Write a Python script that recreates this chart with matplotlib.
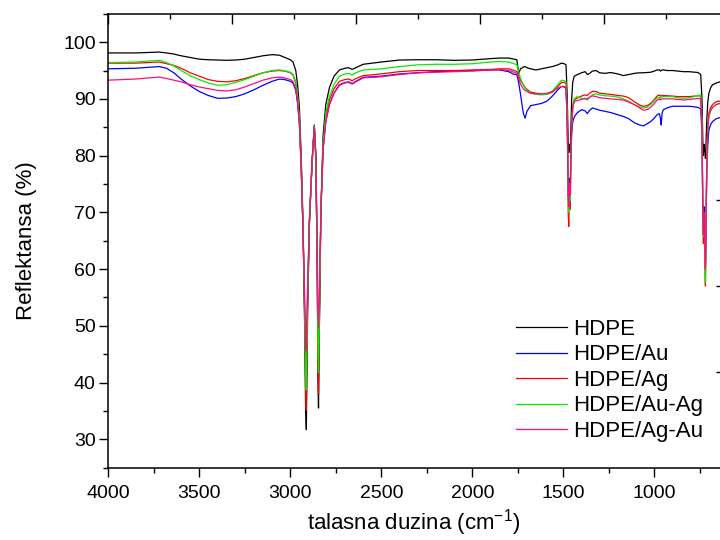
import numpy as np
import matplotlib
matplotlib.use("Agg")
import matplotlib.pyplot as plt
from matplotlib.ticker import MultipleLocator, FixedLocator, NullFormatter

plt.rcParams['font.family'] = ['Liberation Sans', 'DejaVu Sans']
plt.rcParams['mathtext.fontset'] = 'custom'
plt.rcParams['mathtext.rm'] = 'Liberation Sans'
plt.rcParams['mathtext.it'] = 'Liberation Sans'

# wavenumber grid (cm-1)
wavenumber = [
    4000, 3850, 3720, 3680, 3640, 3600, 3550, 3500, 3450, 3400, 3350, 3300, 3250, 3200, 3150, 3100, 3060, 3030, 3000,
    2985, 2970, 2960, 2950, 2940, 2930, 2922, 2916, 2912, 2905, 2895, 2880, 2868, 2860, 2852, 2848, 2845, 2840, 2832,
    2820, 2805, 2785, 2760, 2730, 2700, 2680, 2660, 2640, 2600,
    2500, 2400, 2300, 2200, 2100, 2000, 1900, 1850, 1800, 1770,
    1755, 1745, 1735, 1720, 1710, 1700, 1680, 1650, 1620, 1590, 1560, 1530, 1510, 1495, 1485,
    1478, 1473, 1470, 1467, 1464, 1461, 1458, 1454, 1448, 1440,
    1425, 1400, 1380, 1368, 1355, 1340, 1320, 1300, 1270, 1240, 1200, 1170, 1140, 1110, 1080, 1060, 1040, 1020, 1000,
    985, 972, 966, 962, 957, 950, 930, 900, 870, 840, 810, 780, 760, 745,
    738, 733, 730, 727, 724, 721, 719, 716, 712, 706, 700, 690, 680, 660, 640, 620,
]

hdpe = [
    98.1, 98.1, 98.25, 98.1, 97.9, 97.6, 97.3, 97.0, 96.9, 96.85, 96.8, 96.85, 97.0, 97.3, 97.6, 97.8, 97.7, 97.3, 96.9,
    96.5, 95.0, 92.5, 88.5, 80.0, 68.0, 52.0, 36.0, 31.7, 52.0, 68.0, 79.0, 85.4, 80.0, 60.0, 40.0, 35.5, 50.0, 70.0,
    83.5, 89.0, 92.0, 94.0, 95.1, 95.4, 95.5, 95.2, 95.5, 96.1,
    96.5, 96.85, 96.9, 96.9, 96.8, 96.85, 97.1, 97.2, 97.2, 97.0,
    96.9, 94.5, 95.3, 95.6, 95.7, 95.5, 95.3, 95.1, 95.3, 95.5, 95.7, 96.0, 96.3, 96.2, 96.0,
    90.0, 82.0, 80.5, 82.0, 81.0, 81.5, 85.0, 90.0, 93.0, 94.0,
    94.25, 94.6, 94.8, 94.3, 94.5, 94.9, 95.0, 94.6, 94.5, 94.65, 94.4, 94.1, 94.3, 94.5, 94.6, 94.6, 94.65, 94.7, 94.9,
    95.1, 95.1, 94.9, 95.0, 95.1, 95.1, 95.0, 95.0, 94.9, 94.8, 94.8, 94.7, 94.65, 94.3,
    90.0, 82.0, 80.0, 82.0, 81.0, 80.5, 79.5, 82.0, 86.0, 89.5, 91.0, 92.0, 92.5, 92.8, 93.0, 93.0,
]

hdpe_au = [
    95.3, 95.4, 95.7, 95.4, 94.6, 93.5, 92.3, 91.3, 90.6, 90.1, 90.15, 90.4, 90.9, 91.6, 92.4, 93.1, 93.5, 93.4, 93.1,
    92.8, 91.5, 89.2, 85.5, 77.5, 66.5, 54.0, 43.0, 40.5, 55.5, 68.5, 79.0, 85.0, 80.0, 62.5, 47.0, 44.0, 53.0, 70.0,
    81.0, 86.0, 89.0, 91.0, 92.5, 92.9, 93.0, 92.7, 93.1, 93.8,
    94.0, 94.4, 94.6, 94.8, 94.9, 95.0, 95.1, 95.1, 94.8, 94.3,
    94.3, 92.8, 90.8, 87.5, 86.6, 87.8, 88.8, 89.0, 89.2, 89.6, 90.5, 91.6, 92.2, 92.1, 91.9,
    85.0, 74.0, 72.0, 76.0, 74.0, 76.0, 80.0, 84.0, 86.0, 86.8,
    87.5, 88.1, 87.9, 87.4, 88.0, 88.4, 88.2, 88.0, 87.8, 87.6, 87.2, 86.9, 86.5, 85.8, 85.4, 85.25, 85.6, 86.0, 86.6,
    87.2, 87.4, 86.5, 85.4, 87.5, 88.1, 88.4, 88.7, 88.7, 88.7, 88.7, 88.6, 88.5, 88.2,
    84.0, 70.0, 68.0, 71.0, 68.0, 63.0, 61.0, 68.0, 77.0, 82.0, 84.5, 85.5, 86.0, 86.5, 86.7, 86.8,
]

hdpe_ag = [
    96.3, 96.3, 96.5, 96.2, 95.9, 95.4, 94.6, 94.0, 93.4, 93.1, 93.0, 93.2, 93.6, 94.1, 94.6, 94.9, 95.0, 94.9, 94.6,
    94.2, 92.8, 90.3, 86.3, 78.3, 67.0, 52.5, 39.0, 35.1, 54.0, 68.0, 79.0, 85.2, 80.0, 61.0, 42.0, 38.1, 51.0, 70.0,
    81.5, 86.8, 89.8, 91.8, 93.1, 93.4, 93.5, 93.2, 93.6, 94.1,
    94.4, 94.8, 95.0, 95.0, 95.0, 95.1, 95.2, 95.3, 95.3, 95.0,
    94.8, 94.0, 93.3, 92.5, 92.0, 91.7, 91.2, 91.0, 90.9, 90.8, 91.2, 92.2, 92.9, 92.9, 92.7,
    86.0, 70.0, 67.5, 73.0, 70.5, 72.5, 79.0, 85.0, 88.5, 89.8,
    90.1, 90.5, 90.7, 90.6, 91.0, 91.3, 91.3, 91.0, 90.9, 90.8, 90.6, 90.5, 90.2, 89.5, 88.9, 88.7, 88.8, 89.2, 89.9,
    90.5, 90.7, 90.5, 90.6, 90.6, 90.6, 90.55, 90.5, 90.4, 90.4, 90.4, 90.5, 90.55, 90.5,
    86.0, 67.0, 64.5, 69.0, 65.0, 59.0, 57.0, 65.0, 78.0, 85.5, 87.5, 88.5, 89.0, 89.5, 89.6, 89.7,
]

hdpe_au_ag = [
    96.4, 96.5, 96.8, 96.4, 95.8, 95.0, 94.1, 93.4, 92.8, 92.4, 92.5, 92.9, 93.4, 94.0, 94.6, 95.0, 95.1, 94.95, 94.7,
    94.3, 93.0, 90.5, 86.5, 78.5, 67.0, 54.0, 42.0, 38.7, 55.0, 68.0, 79.0, 85.2, 80.0, 62.0, 45.0, 41.7, 52.0, 70.0,
    82.0, 87.5, 90.5, 92.5, 94.0, 94.4, 94.5, 94.2, 94.6, 95.1,
    95.3, 95.7, 96.0, 96.1, 96.1, 96.2, 96.5, 96.6, 96.5, 96.2,
    96.0, 94.8, 93.6, 92.5, 91.9, 91.5, 91.0, 90.8, 90.7, 90.8, 91.4, 92.5, 93.3, 93.2, 93.0,
    87.0, 72.0, 70.0, 75.0, 72.0, 74.0, 80.0, 86.0, 89.0, 90.0,
    90.4, 90.1, 90.0, 89.8, 90.3, 90.7, 90.9, 90.7, 90.55, 90.5, 90.3, 90.0, 89.6, 89.0, 88.6, 88.4, 88.5, 89.0, 89.7,
    90.2, 90.3, 90.1, 90.3, 90.4, 90.4, 90.4, 90.4, 90.2, 90.1, 90.2, 90.4, 90.6, 90.7,
    86.0, 68.0, 65.7, 70.0, 66.0, 60.0, 57.6, 66.0, 78.0, 85.0, 87.0, 88.0, 88.5, 89.0, 89.2, 89.3,
]

hdpe_ag_au = [
    93.3, 93.5, 93.85, 93.6, 93.3, 93.0, 92.5, 92.1, 91.8, 91.5, 91.4, 91.6, 92.1, 92.7, 93.3, 93.7, 93.85, 93.7, 93.4,
    93.1, 91.8, 89.5, 85.8, 78.0, 67.0, 56.0, 48.0, 45.6, 57.0, 69.0, 79.5, 85.0, 80.5, 64.0, 52.0, 49.7, 55.0, 70.5,
    81.0, 86.0, 89.0, 91.0, 92.4, 92.8, 92.9, 92.6, 93.0, 93.7,
    93.9, 94.3, 94.6, 94.7, 94.8, 94.9, 95.1, 95.2, 95.0, 94.7,
    94.5, 93.6, 92.6, 91.8, 91.5, 91.3, 91.0, 90.9, 90.9, 91.0, 91.3, 91.9, 92.2, 92.2, 92.0,
    86.5, 73.0, 71.0, 75.0, 73.0, 75.0, 80.0, 85.5, 88.5, 89.5,
    89.7, 89.9, 90.1, 90.0, 90.3, 90.55, 90.4, 90.2, 90.1, 90.0, 89.9, 89.8, 89.4, 89.0, 88.4, 88.0, 88.1, 88.5, 89.2,
    89.8, 90.0, 89.8, 89.9, 90.0, 90.0, 90.0, 90.0, 89.9, 89.8, 89.9, 90.0, 90.1, 90.0,
    85.5, 69.0, 66.0, 70.0, 67.0, 62.0, 60.0, 67.0, 78.0, 85.0, 87.0, 88.0, 88.5, 89.0, 89.2, 89.3,
]

series = [
    ("HDPE", hdpe, "#000000"),
    ("HDPE/Au", hdpe_au, "#0000ff"),
    ("HDPE/Ag", hdpe_ag, "#ff0000"),
    ("HDPE/Au-Ag", hdpe_au_ag, "#00ee00"),
    ("HDPE/Ag-Au", hdpe_ag_au, "#ff0a80"),
]

fig = plt.figure(figsize=(7.2, 5.4), dpi=100)
rect = [108.3 / 720, 72.4 / 540, 611.7 / 720, 453.8 / 540]
ax = fig.add_axes(rect)

for name, vals, col in series:
    ax.plot(wavenumber, vals, color=col, lw=0.9, label=name)

ax.set_xlim(4000, 639)
ax.set_ylim(25, 105)
ax.xaxis.set_major_locator(MultipleLocator(500))
ax.xaxis.set_minor_locator(MultipleLocator(250))
ax.yaxis.set_major_locator(MultipleLocator(10))
ax.yaxis.set_minor_locator(MultipleLocator(5))
ax.tick_params(which='major', direction='out', length=6.5, width=1.0, labelsize=14, pad=2.5)
ax.tick_params(which='minor', direction='out', length=3.3, width=1.0)
ax.tick_params(axis='x', which='major', pad=6)
ax.tick_params(top=False, right=False, which='both')
ax.spines['right'].set_visible(False)
for s in ['left', 'bottom', 'top']:
    ax.spines[s].set_linewidth(1.1)

ax.set_xlabel('talasna duzina (cm$^{-1}$)', fontsize=16, labelpad=4)
ax.set_ylabel('Reflektansa (%)', fontsize=16, labelpad=19)

leg = ax.legend(loc='upper left', bbox_to_anchor=(516 / 720, 1 - 319 / 540),
                bbox_transform=fig.transFigure, frameon=False, fontsize=16,
                handlelength=2.3, handletextpad=0.25, labelspacing=0.2,
                borderpad=0, borderaxespad=0)

# second layer: inward ticks on top and right, no labels
ax2 = fig.add_axes(rect, frameon=False)
ax2.patch.set_alpha(0)
ax2.set_xlim(0, 611.7 / 62)
ax2.set_ylim(0, 1)
ax2.xaxis.tick_top()
ax2.yaxis.tick_right()
ax2.xaxis.set_major_locator(MultipleLocator(2))
ax2.xaxis.set_minor_locator(MultipleLocator(1))
ax2.yaxis.set_major_locator(FixedLocator([0.2107, 0.4002, 0.5897]))
ax2.xaxis.set_major_formatter(NullFormatter())
ax2.yaxis.set_major_formatter(NullFormatter())
ax2.tick_params(axis='x', which='major', direction='in', length=7, width=1.0)
ax2.tick_params(axis='x', which='minor', direction='in', length=3.5, width=1.0)
ax2.tick_params(axis='y', which='major', direction='in', length=3, width=1.0)

fig.savefig('out.png', dpi=100)
